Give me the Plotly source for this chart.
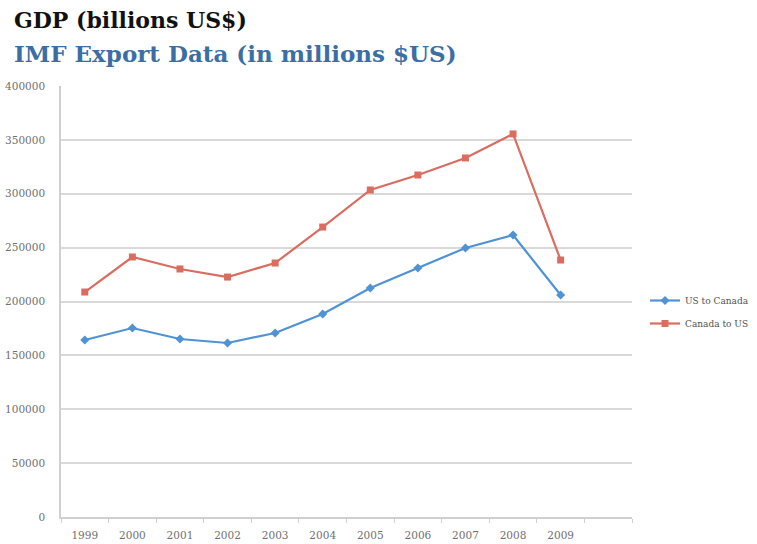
import plotly.graph_objects as go

years = [1999, 2000, 2001, 2002, 2003, 2004, 2005, 2006, 2007, 2008, 2009]
us_to_canada = [164300, 175400, 165200, 161500, 170800, 188400, 212500, 231100, 249700, 261700, 206000]
canada_to_us = [208800, 241300, 230200, 222700, 235700, 269100, 303500, 317400, 333200, 355500, 238500]
y_ticks = [0, 50000, 100000, 150000, 200000, 250000, 300000, 350000, 400000]

blue = "#4f93d5"
red = "#da6c60"
serif = "DejaVu Serif, Liberation Serif, serif"

fig = go.Figure()
fig.add_trace(go.Scatter(
    x=years, y=us_to_canada, name="US to Canada", mode="lines+markers",
    legendgroup="a",
    line=dict(color=blue, width=2.2),
    marker=dict(symbol="diamond", size=7, color=blue)))
fig.add_trace(go.Scatter(
    x=years, y=canada_to_us, name="Canada to US", mode="lines+markers",
    legendgroup="b",
    line=dict(color=red, width=2.2),
    marker=dict(symbol="square", size=7, color=red)))

fig.update_layout(
    width=757, height=544,
    margin=dict(l=61, r=125, t=86, b=27, autoexpand=False),
    paper_bgcolor="white", plot_bgcolor="white",
    font=dict(family=serif, size=10.5, color="#707070"),
    showlegend=True,
    legend=dict(xref="container", yref="container", x=645/757, y=(544-312)/544,
                xanchor="left", yanchor="middle",
                font=dict(family=serif, size=9, color="#505050"),
                itemwidth=30, traceorder="grouped", tracegroupgap=4,
                bgcolor="rgba(0,0,0,0)"),
)
fig.add_annotation(text="<b>GDP (billions US$)</b>", xref="paper", yref="paper",
                   x=-61/571 + 12/571, y=1 + (86-20)/431, xanchor="left", yanchor="middle",
                   showarrow=False, font=dict(family=serif, size=22, color="#111111"))
fig.add_annotation(text="<b>IMF Export Data (in millions $US)</b>", xref="paper", yref="paper",
                   x=-61/571 + 12/571, y=1 + (86-53)/431, xanchor="left", yanchor="middle",
                   showarrow=False, font=dict(family=serif, size=23, color="#3a6ea5"))

fig.update_xaxes(range=[1998.5, 2010.5], tickmode="array", tickvals=years,
                 ticktext=[str(y) for y in years], showgrid=False,
                 showline=True, linecolor="#d0d0d0", linewidth=1.5,
                 ticks="", zeroline=False, ticklabelstandoff=8, automargin=False)
fig.update_yaxes(range=[0, 400000], tickmode="array", tickvals=y_ticks,
                 ticktext=[str(v) for v in y_ticks], showgrid=True,
                 gridcolor="#d9d9d9", gridwidth=1.5, showline=True,
                 linecolor="#d0d0d0", linewidth=1.5, zeroline=False, ticks="",
                 ticklabelstandoff=12, automargin=False)

fig.update_xaxes(minor=dict(tickmode="array", tickvals=[y - 0.5 for y in years] + [2009.5, 2010.5],
                            ticks="outside", ticklen=4, tickcolor="#d0d0d0", showgrid=False))

fig.write_html("out.html")
